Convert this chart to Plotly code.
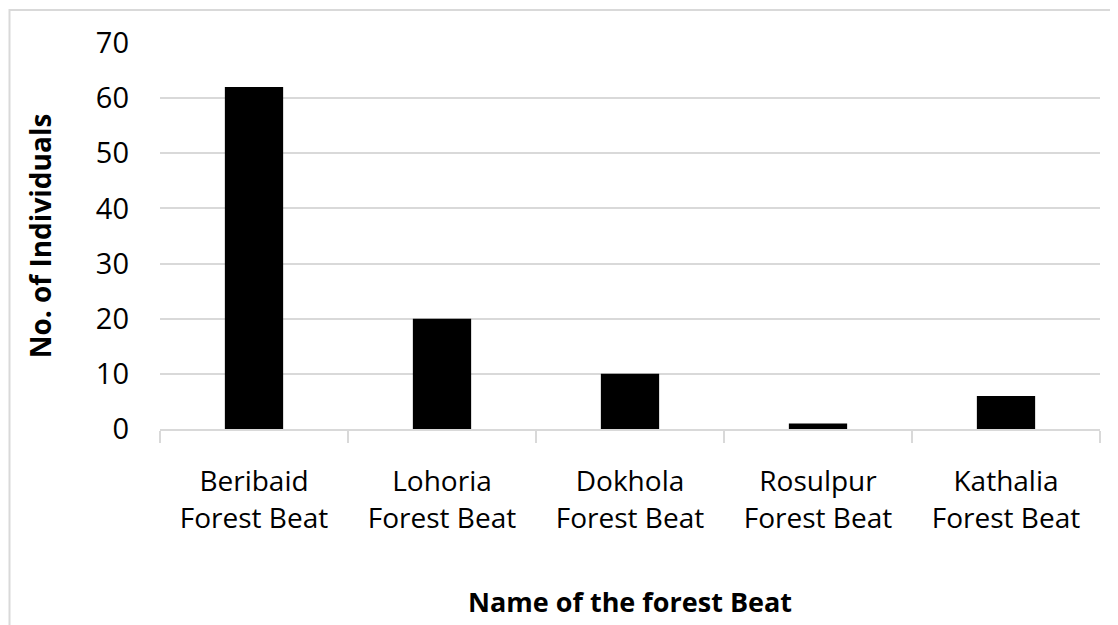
import plotly.graph_objects as go

# dati
beat = ["Beribaid<br>Forest Beat", "Lohoria<br>Forest Beat", "Dokhola<br>Forest Beat",
        "Rosulpur<br>Forest Beat", "Kathalia<br>Forest Beat"]
individui = [62, 20, 10, 1, 6]
y_ticks = [0, 10, 20, 30, 40, 50, 60, 70]

grigio = "#d9d9d9"
font_base = "Open Sans, Noto Sans, sans-serif"

fig = go.Figure()
fig.add_trace(go.Bar(x=beat, y=individui, marker=dict(color="black", line=dict(width=0)),
                     hoverinfo="x+y"))

# margini ridotti di 8px per compensare il margine del body html
fig.update_layout(
    width=1118, height=625,
    margin=dict(l=152, r=26, t=35, b=204),
    paper_bgcolor="white", plot_bgcolor="white",
    bargap=0.69,
    showlegend=False,
    font=dict(family=font_base, color="#000000", size=28),
)

fig.update_yaxes(
    range=[0, 70], tickvals=y_ticks, showgrid=True, gridcolor=grigio, gridwidth=1.5,
    zeroline=False, showline=False, ticks="", ticklabelstandoff=30,
    tickfont=dict(size=29),
    title=dict(text="<b>No. of Individuals</b>", font=dict(size=28), standoff=36),
)
fig.update_xaxes(
    showline=True, linecolor=grigio, linewidth=1.5,
    ticks="outside", tickson="boundaries", ticklen=12, tickcolor=grigio, tickwidth=1.5,
    ticklabelstandoff=27,
    tickfont=dict(size=28),
    title=dict(text="<b>Name of the forest Beat</b>", font=dict(size=27), standoff=58),
)

# cornice esterna grigia (tagliata a destra e in basso)
fig.add_shape(type="rect", xref="paper", yref="paper",
              x0=(9.5 - 160) / 940, x1=(1125 - 160) / 940,
              y0=-(640 - 429) / 386, y1=1 + (43 - 10) / 386,
              line=dict(color=grigio, width=2), layer="below")

fig.write_html("out.html")
